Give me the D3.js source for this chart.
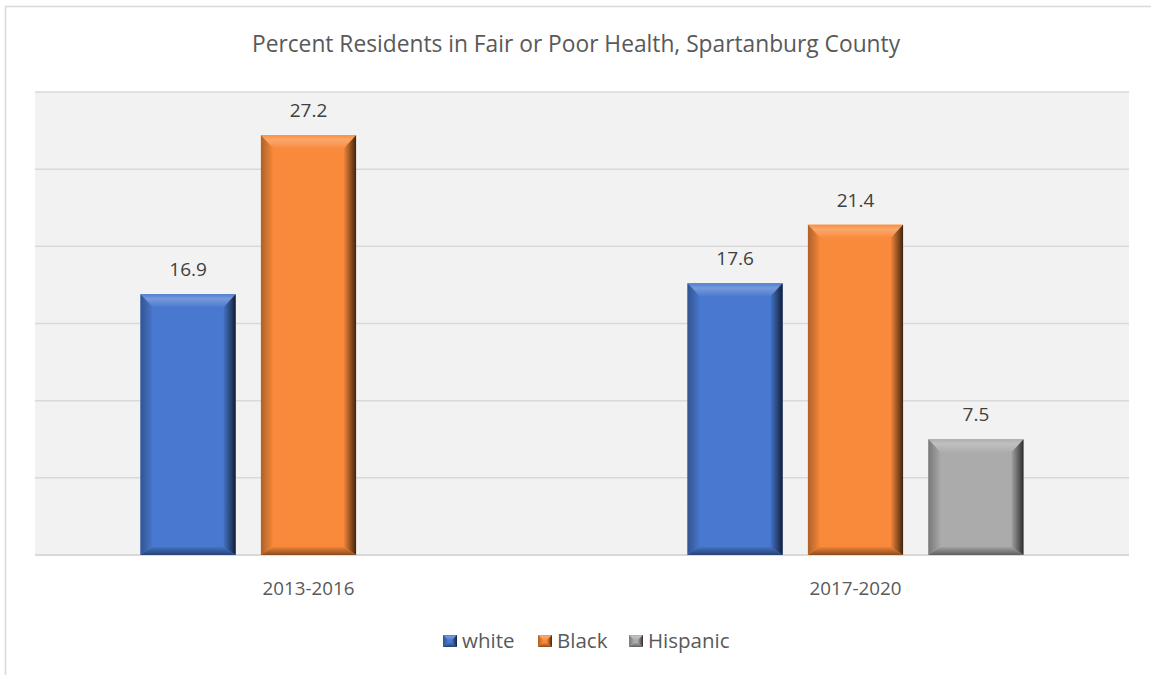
<!DOCTYPE html>
<html>
<head>
<meta charset="utf-8">
<script src="https://cdn.jsdelivr.net/npm/d3@7"></script>
<style>
  html, body { margin: 0; padding: 0; background: #fff; }
  svg { display: block; }
  text { font-family: "Open Sans", "Noto Sans", sans-serif; }
</style>
</head>
<body>
<svg id="chart" width="1151" height="675"></svg>
<script>
const title = "Percent Residents in Fair or Poor Health, Spartanburg County";
const categories = ["2013-2016", "2017-2020"];
const seriesNames = ["white", "Black", "Hispanic"];
const whiteValues = [16.9, 17.6];
const blackValues = [27.2, 21.4];
const hispanicValues = [null, 7.5];
const yTicks = [0, 5, 10, 15, 20, 25, 30];
const seriesColors = ["#4878CF", "#F98A3B", "#ABABAB"];

const seriesValues = [whiteValues, blackValues, hispanicValues];

const svg = d3.select("#chart");
const W = 1151, H = 675;
const plot = { left: 35, right: 1129, top: 92, bottom: 555 };

// outer frame (left and top edges visible)
svg.append("line").attr("x1", 5.5).attr("x2", 5.5).attr("y1", 6).attr("y2", H)
  .attr("stroke", "#d9d9d9").attr("stroke-width", 1.5);
svg.append("line").attr("x1", 5).attr("x2", W).attr("y1", 6.5).attr("y2", 6.5)
  .attr("stroke", "#d9d9d9").attr("stroke-width", 1.5);

// title
const t = svg.append("text").attr("x", 576).attr("y", 52)
  .attr("text-anchor", "middle").attr("fill", "#595959")
  .style("font-size", "20px").text(title);
(function fit() {
  const target = 648;
  const len = t.node().getComputedTextLength();
  if (len > 0) t.style("font-size", (20 * target / len).toFixed(2) + "px");
})();

const x0 = d3.scaleBand().domain(categories).range([plot.left, plot.right]).padding(0);
const clusterW = 336;
const x1 = d3.scaleBand().domain(seriesNames)
  .range([0, clusterW]).paddingInner(0.21).paddingOuter(0);
const y = d3.scaleLinear().domain([0, 30]).range([plot.bottom, plot.top]);

// plot background
svg.append("rect").attr("x", plot.left).attr("y", plot.top)
  .attr("width", plot.right - plot.left).attr("height", plot.bottom - plot.top)
  .attr("fill", "#f2f2f2");

// gridlines
svg.append("g").selectAll("line").data(yTicks).join("line")
  .attr("x1", plot.left).attr("x2", plot.right)
  .attr("y1", d => y(d)).attr("y2", d => y(d))
  .attr("stroke", "#d9d9d9").attr("stroke-width", d => d === 0 ? 2 : 1.5);

// gradients / bevel helpers
const defs = svg.append("defs");
function shade(c, k) { return d3.interpolateRgb(c, k > 0 ? "#ffffff" : "#000000")(Math.abs(k)); }
seriesColors.forEach((c, i) => {
  const mk = (id, x1_, y1_, x2_, y2_, stops) => {
    const g = defs.append("linearGradient").attr("id", id)
      .attr("x1", x1_).attr("y1", y1_).attr("x2", x2_).attr("y2", y2_);
    stops.forEach(s => g.append("stop").attr("offset", s[0]).attr("stop-color", s[1]));
  };
  mk("top" + i, 0, 0, 0, 1, [[0, shade(c, 0.05)], [0.35, shade(c, 0.25)], [1, shade(c, 0.02)]]);
  mk("left" + i, 0, 0, 1, 0, [[0, shade(c, -0.3)], [1, shade(c, -0.02)]]);
  mk("right" + i, 0, 0, 1, 0, [[0, shade(c, -0.05)], [0.6, shade(c, -0.45)], [1, shade(c, -0.75)]]);
  mk("bottom" + i, 0, 0, 0, 1, [[0, shade(c, -0.05)], [1, shade(c, -0.45)]]);
});

function bevelRect(g, x, yTop, w, h, si, bx, bt, bb) {
  const c = seriesColors[si];
  g.append("rect").attr("x", x).attr("y", yTop).attr("width", w).attr("height", h).attr("fill", c);
  const xr = x + w, yb = yTop + h;
  const poly = (pts, fill) => g.append("polygon")
    .attr("points", pts.map(p => p.join(",")).join(" ")).attr("fill", fill);
  poly([[x, yTop], [xr, yTop], [xr - bx, yTop + bt], [x + bx, yTop + bt]], `url(#top${si})`);
  poly([[x, yTop], [x + bx, yTop + bt], [x + bx, yb - bb], [x, yb]], `url(#left${si})`);
  poly([[xr, yTop], [xr, yb], [xr - bx, yb - bb], [xr - bx, yTop + bt]], `url(#right${si})`);
  poly([[x, yb], [x + bx, yb - bb], [xr - bx, yb - bb], [xr, yb]], `url(#bottom${si})`);
}

// bars
const barsG = svg.append("g");
const labelsG = svg.append("g");
categories.forEach((cat, ci) => {
  const start = x0(cat) + (x0.bandwidth() - clusterW) / 2;
  seriesNames.forEach((s, si) => {
    const v = seriesValues[si][ci];
    if (v == null) return;
    const bx = start + x1(s);
    const bw = x1.bandwidth();
    const top = y(v);
    bevelRect(barsG, bx, top, bw, y(0) - top, si, 12, 13, 8);
    labelsG.append("text").attr("x", bx + bw / 2).attr("y", top - 18)
      .attr("text-anchor", "middle").attr("fill", "#404040")
      .style("font-size", "19px").text(v.toFixed(1));
  });
});

// category axis labels
svg.append("g").selectAll("text").data(categories).join("text")
  .attr("x", d => x0(d) + x0.bandwidth() / 2).attr("y", 595)
  .attr("text-anchor", "middle").attr("fill", "#595959")
  .style("font-size", "18.8px").text(d => d);

// legend
const legendItems = [
  { name: "white", x: 443 },
  { name: "Black", x: 538 },
  { name: "Hispanic", x: 629 }
];
const lg = svg.append("g");
legendItems.forEach((it, i) => {
  const si = seriesNames.indexOf(it.name);
  bevelRect(lg, it.x, 635, 14, 12, si, 5, 5, 4);
  lg.append("text").attr("x", it.x + 19).attr("y", 648)
    .attr("fill", "#595959").style("font-size", "20.5px").text(it.name);
});
</script>
</body>
</html>
